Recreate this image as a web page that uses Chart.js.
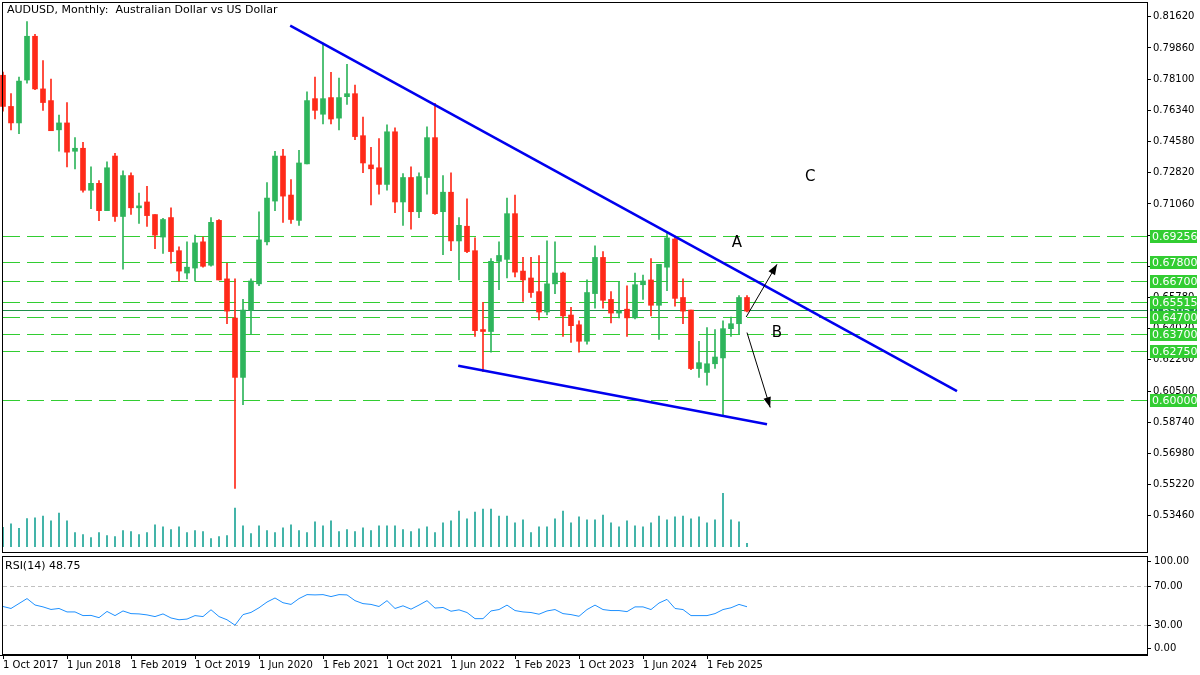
<!DOCTYPE html>
<html>
<head>
<meta charset="utf-8">
<script src="https://cdn.jsdelivr.net/npm/chart.js@4.4.1/dist/chart.umd.min.js"></script>
<style>
  body { margin: 0; background: #fff; }
  #wrap { position: relative; width: 1200px; height: 675px; }
  canvas { position: absolute; left: 0; }
  #main { top: 0; }
  #rsi { top: 555px; }
</style>
</head>
<body>
<div id="wrap">
  <canvas id="main" width="1200" height="555"></canvas>
  <canvas id="rsi" width="1200" height="120"></canvas>
</div>
<script>
// monthly candles, Oct 2017 .. Jul 2025
const opens  = [0.7832,0.7656,0.7563,0.7805,0.8052,0.7755,0.7689,0.7524,0.7563,0.7403,0.7420,0.7183,0.7222,0.7068,0.7376,0.7035,0.7266,0.7084,0.7117,0.7046,0.6919,0.7029,0.6842,0.6716,0.6744,0.6892,0.6760,0.7013,0.6683,0.6462,0.6127,0.6507,0.6655,0.6892,0.7122,0.7376,0.7156,0.7013,0.7332,0.7700,0.7612,0.7706,0.7590,0.7711,0.7728,0.7491,0.7326,0.7310,0.7216,0.7513,0.7117,0.7255,0.7062,0.7255,0.7480,0.7062,0.7172,0.6897,0.6980,0.6842,0.6397,0.6386,0.6782,0.6793,0.7051,0.6727,0.6688,0.6611,0.6496,0.6655,0.6716,0.6479,0.6424,0.6331,0.6600,0.6804,0.6567,0.6490,0.6512,0.6463,0.6650,0.6677,0.6534,0.6749,0.6908,0.6578,0.6507,0.6177,0.6155,0.6204,0.6237,0.6402,0.6430,0.6578];
const highs  = [0.7850,0.7728,0.7821,0.8135,0.8063,0.7915,0.7810,0.7607,0.7678,0.7480,0.7453,0.7315,0.7238,0.7343,0.7392,0.7293,0.7282,0.7167,0.7205,0.7046,0.7024,0.7084,0.6864,0.6892,0.6930,0.6919,0.7029,0.7018,0.6771,0.6683,0.6567,0.6683,0.7062,0.7227,0.7403,0.7414,0.7244,0.7409,0.7739,0.7821,0.8014,0.7849,0.7816,0.7893,0.7777,0.7596,0.7425,0.7475,0.7552,0.7535,0.7277,0.7315,0.7282,0.7541,0.7673,0.7266,0.7282,0.7029,0.7134,0.6914,0.6551,0.6798,0.6892,0.7139,0.7156,0.6804,0.6804,0.6815,0.6897,0.6892,0.6721,0.6523,0.6446,0.6677,0.6870,0.6837,0.6611,0.6666,0.6644,0.6716,0.6705,0.6798,0.6765,0.6947,0.6925,0.6683,0.6507,0.6331,0.6408,0.6397,0.6446,0.6468,0.6589,0.6589];
const lows   = [0.7630,0.7524,0.7502,0.7788,0.7750,0.7634,0.7519,0.7403,0.7315,0.7304,0.7172,0.7079,0.7012,0.7068,0.7007,0.6738,0.7046,0.6996,0.6979,0.6853,0.6826,0.6771,0.6672,0.6683,0.6672,0.6749,0.6754,0.6677,0.6430,0.5500,0.5973,0.6369,0.6644,0.6875,0.7068,0.7002,0.6996,0.6985,0.7332,0.7585,0.7557,0.7557,0.7524,0.7667,0.7469,0.7282,0.7101,0.7161,0.7183,0.7057,0.6985,0.6963,0.7029,0.7161,0.7046,0.6820,0.6842,0.6677,0.6831,0.6358,0.6160,0.6270,0.6622,0.6688,0.6694,0.6556,0.6578,0.6452,0.6479,0.6600,0.6358,0.6325,0.6270,0.6314,0.6518,0.6518,0.6435,0.6463,0.6358,0.6457,0.6567,0.6474,0.6342,0.6617,0.6529,0.6430,0.6171,0.6127,0.6083,0.6177,0.5913,0.6358,0.6369,0.6496];
const closes = [0.7656,0.7563,0.7799,0.8052,0.7755,0.7678,0.7519,0.7563,0.7398,0.7420,0.7183,0.7222,0.7068,0.7310,0.7035,0.7266,0.7084,0.7095,0.7040,0.6930,0.7018,0.6837,0.6727,0.6749,0.6886,0.6754,0.7002,0.6677,0.6501,0.6127,0.6507,0.6671,0.6903,0.7139,0.7376,0.7150,0.7018,0.7337,0.7689,0.7634,0.7700,0.7585,0.7706,0.7728,0.7486,0.7337,0.7304,0.7216,0.7513,0.7117,0.7255,0.7062,0.7260,0.7480,0.7051,0.7172,0.6897,0.6985,0.6837,0.6391,0.6386,0.6782,0.6815,0.7051,0.6721,0.6677,0.6606,0.6496,0.6655,0.6716,0.6474,0.6419,0.6331,0.6606,0.6804,0.6562,0.6490,0.6501,0.6463,0.6650,0.6671,0.6534,0.6765,0.6914,0.6573,0.6501,0.6177,0.6210,0.6204,0.6242,0.6402,0.6430,0.6578,0.6501];
const volumes = [60,71,57,87,89,95,80,104,80,44,38,29,44,35,32,50,47,38,44,68,62,53,62,44,50,47,26,32,35,119,65,41,65,50,44,59,68,50,44,77,65,80,47,53,47,59,50,65,65,65,53,47,56,62,44,74,80,110,86,107,116,116,95,95,74,83,44,62,62,86,110,74,92,83,83,98,74,62,80,65,62,74,95,83,92,95,86,92,74,83,164,83,77,11];
const rsiValues = [49,47,52,57,50.5,48.6,46,47,43.5,43.5,39.8,40,37.7,44,39.8,44.5,41.8,41.5,40.5,38.8,41.5,37.4,35.6,36.3,39.8,38.8,45.7,38.8,35.6,30.1,40.8,43,47.7,53.5,57.6,52.8,51.1,57,61,60.7,61,59,61,60.7,54.9,51.9,51.1,49,54.9,47,49.7,46.3,50.4,54.9,47.4,48,44.2,45.6,42.9,36.7,36.7,44.5,45.9,50.4,44.9,43.5,42.9,41.2,44.5,45.9,41.8,40.8,39.1,45.9,50.4,45.9,44.9,44.9,43.8,48.6,48.6,45.9,52.5,56.2,47,45.9,39.8,39.8,39.8,41.8,45.9,47.7,51.1,48.75];
const dateLabels = ['1 Oct 2017','1 Jun 2018','1 Feb 2019','1 Oct 2019','1 Jun 2020','1 Feb 2021','1 Oct 2021','1 Jun 2022','1 Feb 2023','1 Oct 2023','1 Jun 2024','1 Feb 2025'];
const priceTicks = [0.81620,0.79860,0.78100,0.76340,0.74580,0.72820,0.71060,0.69300,0.67540,0.65780,0.64020,0.62260,0.60500,0.58740,0.56980,0.55220,0.53460];
const levels = [0.69256,0.67800,0.66700,0.65515,0.64700,0.63700,0.62750,0.60000];
const lastPrice = 0.65057;
const upperTrend = [{x:35.9,y:0.8112},{x:119.25,y:0.6050}];
const lowerTrend = [{x:56.9,y:0.6193},{x:95.5,y:0.5863}];
const arrows = [[{x:92.9,y:0.6468},{x:96.75,y:0.6765}],[{x:93,y:0.6380},{x:95.9,y:0.5957}]];
const notes = [{t:'A',x:91.75,y:0.6886},{t:'B',x:96.75,y:0.6375},{t:'C',x:100.9,y:0.7260}];

const GREEN = '#2fb55c', RED = '#ff2a1a', TEAL = '#1ea597';
const FONT = 'DejaVu Sans';
const XMIN = -0.375, XMAX = 143;
const idx = opens.map((v, i) => i);
const col = idx.map(i => closes[i] >= opens[i] ? GREEN : RED);

const fixWidth = w => (s) => { s.width = w; };

const overlay = {
  id: 'overlay',
  beforeDatasetsDraw(chart) {
    const {ctx, scales: {x, y}} = chart;
    ctx.save();
    ctx.lineWidth = 1;
    ctx.strokeStyle = '#1e8f4a';
    let py = Math.round(y.getPixelForValue(lastPrice)) + 0.5;
    ctx.beginPath(); ctx.moveTo(3, py); ctx.lineTo(1147, py); ctx.stroke();
    ctx.strokeStyle = '#32cd32';
    ctx.setLineDash([17, 7]);
    levels.forEach(l => {
      const ly = Math.round(y.getPixelForValue(l)) + 0.5;
      ctx.beginPath(); ctx.moveTo(3, ly); ctx.lineTo(1147, ly); ctx.stroke();
    });
    ctx.restore();
  },
  afterDraw(chart) {
    const {ctx, scales: {x, y}} = chart;
    ctx.save();
    ctx.strokeStyle = '#000';
    ctx.lineWidth = 1;
    ctx.strokeRect(2.5, 2.5, 1145, 550);
    ctx.font = '11px ' + FONT;
    ctx.fillStyle = '#000';
    ctx.textBaseline = 'middle';
    ctx.fillText('AUDUSD, Monthly:  Australian Dollar vs US Dollar', 7, 10);
    // arrows
    arrows.forEach(a => {
      const x1 = x.getPixelForValue(a[0].x), y1 = y.getPixelForValue(a[0].y);
      const x2 = x.getPixelForValue(a[1].x), y2 = y.getPixelForValue(a[1].y);
      ctx.beginPath(); ctx.moveTo(x1, y1); ctx.lineTo(x2, y2); ctx.stroke();
      const ang = Math.atan2(y2 - y1, x2 - x1);
      ctx.beginPath();
      ctx.moveTo(x2, y2);
      ctx.lineTo(x2 - 11 * Math.cos(ang - 0.35), y2 - 11 * Math.sin(ang - 0.35));
      ctx.lineTo(x2 - 11 * Math.cos(ang + 0.35), y2 - 11 * Math.sin(ang + 0.35));
      ctx.closePath(); ctx.fill();
    });
    ctx.font = '15px ' + FONT;
    ctx.textAlign = 'center';
    notes.forEach(n => ctx.fillText(n.t, x.getPixelForValue(n.x), y.getPixelForValue(n.y)));
    // price boxes
    ctx.font = '11px ' + FONT;
    ctx.textAlign = 'left';
    const box = (v, bg) => {
      const by = Math.round(y.getPixelForValue(v));
      ctx.fillStyle = bg;
      ctx.fillRect(1150, by - 6, 47, 13);
      ctx.fillStyle = '#fff';
      ctx.fillText(v.toFixed(5), 1152, by + 1);
    };
    box(lastPrice, '#1e8f4a');
    levels.forEach(l => box(l, '#32cd32'));
    ctx.restore();
  }
};

new Chart(document.getElementById('main'), {
  type: 'bar',
  data: {
    datasets: [
      { type: 'line', data: upperTrend, borderColor: '#0000ee', borderWidth: 2.5, pointRadius: 0, yAxisID: 'y' },
      { type: 'line', data: lowerTrend, borderColor: '#0000ee', borderWidth: 2.5, pointRadius: 0, yAxisID: 'y' },
      { data: idx.map(i => ({x: i, y: [lows[i], highs[i]]})), backgroundColor: col, barThickness: 1, grouped: false, yAxisID: 'y' },
      { data: idx.map(i => ({x: i, y: [opens[i], closes[i]]})), backgroundColor: col, barThickness: 5, grouped: false, minBarLength: 1, yAxisID: 'y' },
      { data: idx.map(i => ({x: i, y: volumes[i]})), backgroundColor: TEAL, barThickness: 1, grouped: false, yAxisID: 'vol' }
    ]
  },
  options: {
    responsive: false, animation: false,
    layout: { padding: { left: 0, top: 0, bottom: 2, right: 0 } },
    plugins: { legend: { display: false }, tooltip: { enabled: false } },
    scales: {
      x: { type: 'linear', min: XMIN, max: XMAX, offset: false, display: false },
      y: {
        position: 'right', min: 0.5170, max: 0.82115,
        afterFit: fixWidth(53),
        afterBuildTicks: (s) => { s.ticks = priceTicks.map(v => ({value: v})); },
        grid: { drawOnChartArea: false, color: '#000', tickLength: 4 },
        border: { color: '#000' },
        ticks: { color: '#000', font: { family: FONT, size: 10 }, padding: 2, callback: v => v.toFixed(5) }
      },
      vol: { display: false, min: 0, max: 1650 }
    }
  },
  plugins: [overlay]
});

const rsiOverlay = {
  id: 'rsiOverlay',
  beforeDatasetsDraw(chart) {
    const {ctx, scales: {y}} = chart;
    ctx.save();
    ctx.strokeStyle = '#c0c0c0';
    ctx.setLineDash([4, 3]);
    [70, 30].forEach(v => {
      const ly = Math.round(y.getPixelForValue(v)) + 0.5;
      ctx.beginPath(); ctx.moveTo(3, ly); ctx.lineTo(1147, ly); ctx.stroke();
    });
    ctx.restore();
  },
  afterDraw(chart) {
    const {ctx} = chart;
    ctx.save();
    ctx.strokeStyle = '#000';
    ctx.strokeRect(2.5, 1.5, 1145, 98);
    ctx.font = '11px ' + FONT;
    ctx.fillStyle = '#000';
    ctx.textBaseline = 'middle';
    ctx.fillText('RSI(14) ' + rsiValues[rsiValues.length - 1].toFixed(2), 5, 11);
    ctx.font = '10px ' + FONT;
    [[100, 6], [70, 31], [30, 70], [0, 93]].forEach(([v, ty]) => {
      ctx.beginPath(); ctx.moveTo(1148, ty + 0.5); ctx.lineTo(1151, ty + 0.5); ctx.stroke();
      ctx.fillText(v.toFixed(2), 1154, ty);
    });
    ctx.restore();
  }
};

new Chart(document.getElementById('rsi'), {
  type: 'line',
  data: {
    datasets: [{ data: idx.map(i => ({x: i, y: rsiValues[i]})), borderColor: '#1e90ff', borderWidth: 1, pointRadius: 0 }]
  },
  options: {
    responsive: false, animation: false,
    layout: { padding: { left: 0, top: 1, right: 53, bottom: 0 } },
    plugins: { legend: { display: false }, tooltip: { enabled: false } },
    scales: {
      x: {
        type: 'linear', min: XMIN, max: XMAX,
        afterFit: (s) => { s.height = 20; },
        afterBuildTicks: (s) => { s.ticks = dateLabels.map((d, k) => ({value: k * 8})); },
        grid: { drawOnChartArea: false, color: '#000', tickLength: 4, offset: false },
        border: { color: '#000' },
        ticks: { color: '#000', font: { family: FONT, size: 10 }, align: 'start', padding: 0, maxRotation: 0, autoSkip: false,
                 callback: (v) => dateLabels[Math.round(v / 8)] }
      },
      y: { min: 0, max: 100, display: false }
    }
  },
  plugins: [rsiOverlay]
});
</script>
</body>
</html>
